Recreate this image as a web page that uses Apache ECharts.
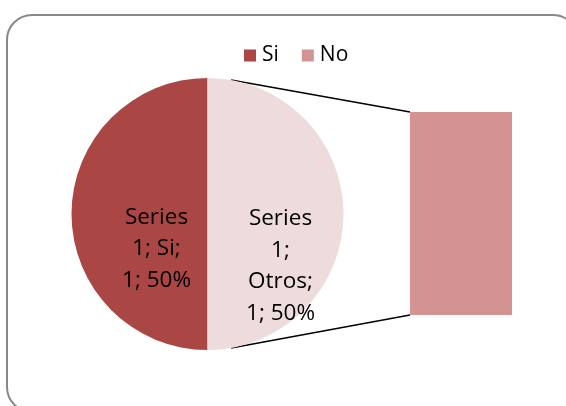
<!DOCTYPE html>
<html><head><meta charset="utf-8">
<script src="https://cdn.jsdelivr.net/npm/echarts@6/dist/echarts.min.js"></script>
<style>html,body{margin:0;padding:0;background:#fff}#c{width:566px;height:406px}</style>
</head><body><div id="c"></div>
<script>
// Data
var pieNames = ['Si', 'Otros'];
var pieValues = [1, 1];
var pieLabels = ['Series\n1; Si;\n1; 50%', 'Series\n1;\nOtros;\n1; 50%'];
var barCategories = ['No'];
var barValues = [1];
var legendItems = ['Si', 'No'];

var colSi = '#AA4643', colOtros = '#EEDCDC', colNo = '#D39392';
var FONT = 'Open Sans';
var cx = 207.5, cy = 214, r = 136;

var chart = echarts.init(document.getElementById('c'), null, {renderer: 'canvas'});
var option = {
  animation: false,
  textStyle: {fontFamily: FONT},
  legend: {
    data: legendItems, left: 239, top: 40, icon: 'rect', itemWidth: 12, itemHeight: 12, itemGap: 23,
    itemStyle: {borderWidth: 0},
    textStyle: {fontFamily: FONT, fontSize: 21, color: '#000', padding: [0, 0, 0, 1]}
  },
  grid: {left: 410, width: 102, top: 112, height: 203},
  xAxis: {type: 'category', data: barCategories, show: false},
  yAxis: {type: 'value', min: 0, max: 1, show: false},
  series: [
    {
      type: 'pie', center: [cx, cy], radius: r, startAngle: 90, clockwise: false,
      data: pieNames.map(function (n, i) {
        return {name: n, value: pieValues[i], itemStyle: {color: i === 0 ? colSi : colOtros},
          label: {formatter: pieLabels[i]}};
      }),
      label: {position: 'inside', fontFamily: FONT, fontSize: 22.5, lineHeight: 31.5, color: '#000', align: 'center'},
      labelLine: {show: false},
      labelLayout: function (p) {
        return p.dataIndex === 0 ? {dx: 20, dy: 35} : {dx: 2, dy: 52};
      },
      emphasis: {disabled: true}
    },
    {
      type: 'bar', name: 'No', data: barValues, barWidth: '100%', itemStyle: {color: colNo},
      emphasis: {disabled: true}
    }
  ]
};
chart.setOption(option);

// connector lines computed from pie geometry and bar extents
var ang = 10 * Math.PI / 180;
var pTop = [cx + r * Math.sin(ang), cy - r * Math.cos(ang)];
var pBot = [cx + r * Math.sin(ang), cy + r * Math.cos(ang)];
var bTop = chart.convertToPixel({gridIndex: 0}, [barCategories[0], barValues[0]]);
var bBot = chart.convertToPixel({gridIndex: 0}, [barCategories[0], 0]);
var barLeft = option.grid.left;
option.graphic = [
  {type: 'rect', shape: {x: 7, y: 15, width: 571, height: 397, r: 25}, style: {fill: 'none', stroke: '#888', lineWidth: 2}, z: -1},
  {type: 'line', shape: {x1: pTop[0], y1: pTop[1], x2: barLeft, y2: bTop[1]}, style: {stroke: '#000', lineWidth: 1.5}},
  {type: 'line', shape: {x1: pBot[0], y1: pBot[1], x2: barLeft, y2: bBot[1]}, style: {stroke: '#000', lineWidth: 1.5}}
];
chart.dispose();
chart = echarts.init(document.getElementById('c'), null, {renderer: 'canvas'});
chart.setOption(option);
</script></body></html>
